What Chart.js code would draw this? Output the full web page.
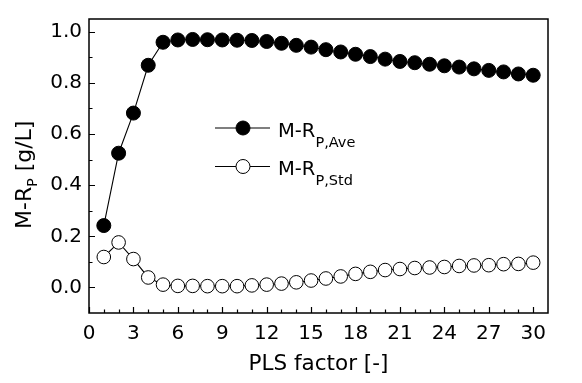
<!DOCTYPE html>
<html>
<head>
<meta charset="utf-8">
<script src="https://cdn.jsdelivr.net/npm/chart.js@4/dist/chart.umd.min.js"></script>
<style>
html,body{margin:0;padding:0;background:#fff;}
#wrap{width:582px;height:383px;position:relative;}
</style>
</head>
<body>
<div id="wrap"><canvas id="c" width="582" height="383"></canvas></div>
<script>
// ---- data ----
const factors = [1,2,3,4,5,6,7,8,9,10,11,12,13,14,15,16,17,18,19,20,21,22,23,24,25,26,27,28,29,30];
const rpAve = [0.242,0.525,0.682,0.869,0.959,0.968,0.970,0.969,0.968,0.967,0.966,0.962,0.955,0.947,0.940,0.930,0.921,0.912,0.903,0.893,0.884,0.879,0.873,0.867,0.862,0.855,0.849,0.843,0.835,0.830];
const rpStd = [0.119,0.176,0.111,0.039,0.011,0.006,0.006,0.005,0.005,0.005,0.008,0.011,0.015,0.020,0.027,0.035,0.043,0.053,0.061,0.068,0.072,0.076,0.078,0.080,0.084,0.086,0.087,0.091,0.092,0.097];
const xTickValues = [0,3,6,9,12,15,18,21,24,27,30];
const xMinorTicks = [1,2,4,5,7,8,10,11,13,14,16,17,19,20,22,23,25,26,28,29];
const yTickValues = [0.0,0.2,0.4,0.6,0.8,1.0];
const yMinorTicks = [0.1,0.3,0.5,0.7,0.9];
const seriesNames = ['M-R', 'M-R'];
const seriesSubs = ['P,Ave', 'P,Std'];
const xTitle = 'PLS factor [-]';
const yTitleMain = 'M-R', yTitleSub = 'P', yTitleRest = ' [g/L]';

const FONT = '"DejaVu Sans", sans-serif';

const framePlugin = {
  id: 'frame',
  afterDraw(chart) {
    const ctx = chart.ctx, a = chart.chartArea;
    const xs = chart.scales.x, ys = chart.scales.y;
    ctx.save();
    ctx.strokeStyle = '#000';
    ctx.lineWidth = 1.5;
    ctx.strokeRect(a.left, a.top, a.right - a.left, a.bottom - a.top);
    ctx.lineWidth = 1.2;
    ctx.beginPath();
    xTickValues.forEach(v => { const p = Math.round(xs.getPixelForValue(v)) + 0.5; ctx.moveTo(p, a.bottom); ctx.lineTo(p, a.bottom - 6); });
    xMinorTicks.forEach(v => { const p = Math.round(xs.getPixelForValue(v)) + 0.5; ctx.moveTo(p, a.bottom); ctx.lineTo(p, a.bottom - 3.5); });
    yTickValues.forEach(v => { const p = Math.round(ys.getPixelForValue(v)) + 0.5; ctx.moveTo(a.left, p); ctx.lineTo(a.left + 6, p); });
    yMinorTicks.forEach(v => { const p = Math.round(ys.getPixelForValue(v)) + 0.5; ctx.moveTo(a.left, p); ctx.lineTo(a.left + 3.5, p); });
    ctx.stroke();

    // axis titles
    ctx.fillStyle = '#000';
    ctx.textBaseline = 'alphabetic';
    ctx.textAlign = 'center';
    ctx.font = '21.5px ' + FONT;
    ctx.fillText(xTitle, (a.left + a.right) / 2, 370);

    ctx.save();
    ctx.translate(31, 229);
    ctx.rotate(-Math.PI / 2);
    ctx.textAlign = 'left';
    ctx.font = '22px ' + FONT;
    let w = ctx.measureText(yTitleMain).width;
    ctx.fillText(yTitleMain, 0, 0);
    ctx.font = '14px ' + FONT;
    ctx.fillText(yTitleSub, w, 6);
    w += ctx.measureText(yTitleSub).width;
    ctx.font = '22px ' + FONT;
    ctx.fillText(yTitleRest, w, 0);
    ctx.restore();

    // legend
    const rows = [128, 166.5];
    chart.data.datasets.forEach((ds, i) => {
      const cy = rows[i];
      ctx.lineWidth = 1.2;
      ctx.strokeStyle = '#000';
      ctx.beginPath();
      ctx.moveTo(215, cy); ctx.lineTo(270, cy);
      ctx.stroke();
      ctx.beginPath();
      ctx.arc(243, cy, 7, 0, Math.PI * 2);
      ctx.fillStyle = ds.pointBackgroundColor;
      ctx.fill();
      ctx.lineWidth = 1;
      ctx.stroke();
      ctx.fillStyle = '#000';
      ctx.textAlign = 'left';
      ctx.font = '19.5px ' + FONT;
      ctx.fillText(seriesNames[i], 278, cy + 8.5);
      const tw = ctx.measureText(seriesNames[i]).width;
      ctx.font = '14.5px ' + FONT;
      ctx.fillText(seriesSubs[i], 278 + tw, cy + 18.5);
    });
    ctx.restore();
  }
};

new Chart(document.getElementById('c'), {
  type: 'line',
  data: {
    labels: factors,
    datasets: [
      {
        data: factors.map((x, i) => ({x: x, y: rpAve[i]})),
        borderColor: '#000', borderWidth: 1.1,
        pointRadius: 7, pointBackgroundColor: '#000', pointBorderColor: '#000', pointBorderWidth: 1,
        tension: 0
      },
      {
        data: factors.map((x, i) => ({x: x, y: rpStd[i]})),
        borderColor: '#000', borderWidth: 1.1,
        pointRadius: 6.8, pointBackgroundColor: '#fff', pointBorderColor: '#000', pointBorderWidth: 1,
        tension: 0
      }
    ]
  },
  options: {
    responsive: false,
    animation: false,
    events: [],
    layout: { padding: { left: 0, top: 10, right: 34, bottom: 0 } },
    plugins: { legend: { display: false }, tooltip: { enabled: false } },
    scales: {
      x: {
        type: 'linear', min: 0, max: 31,
        afterBuildTicks(s) { s.ticks = xTickValues.map(v => ({value: v})); },
        afterFit(s) { s.height = 70; },
        grid: { display: false, drawTicks: false },
        border: { display: false },
        ticks: { color: '#000', font: { family: FONT, size: 20 }, padding: 9, maxRotation: 0, autoSkip: false,
                 callback: v => String(v) }
      },
      y: {
        type: 'linear', min: -0.1, max: 1.05,
        afterBuildTicks(s) { s.ticks = yTickValues.map(v => ({value: v})); },
        afterFit(s) { s.width = 89; },
        grid: { display: false, drawTicks: false },
        border: { display: false },
        ticks: { color: '#000', font: { family: FONT, size: 20 }, padding: 7, autoSkip: false,
                 callback: v => Number(v).toFixed(1) }
      }
    }
  },
  plugins: [framePlugin]
});
</script>
</body>
</html>
